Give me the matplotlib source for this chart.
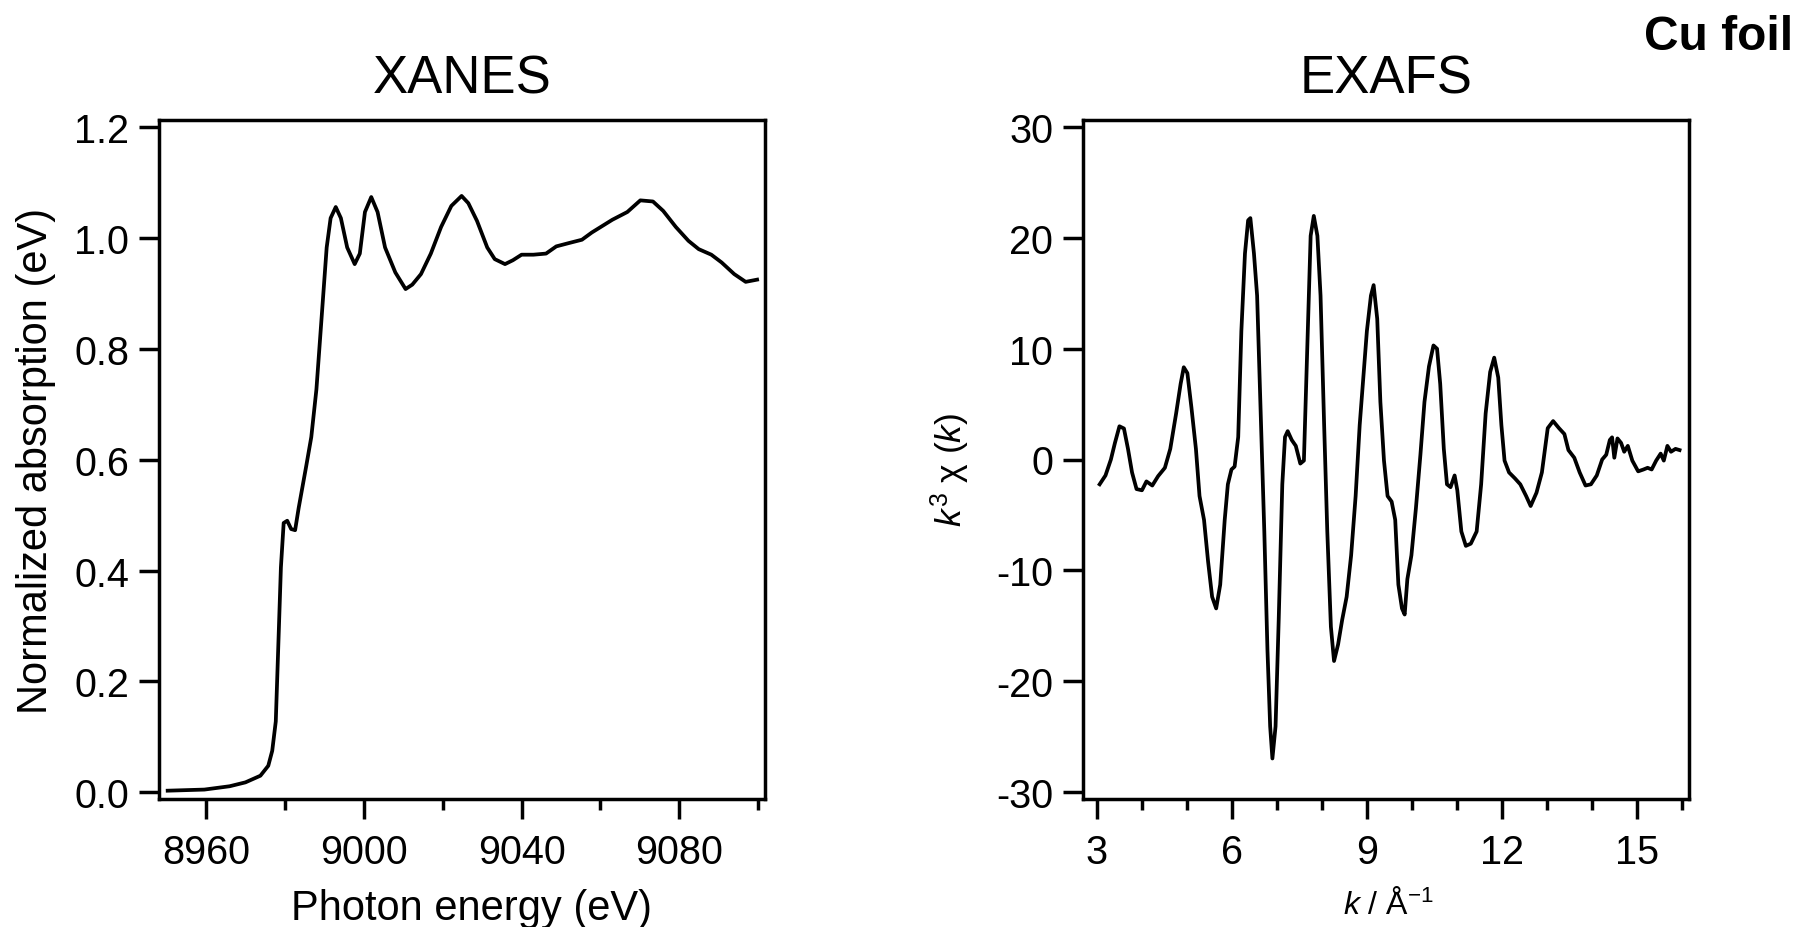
import numpy as np
import matplotlib
matplotlib.use("Agg")
import matplotlib.pyplot as plt
from matplotlib.ticker import MultipleLocator, FormatStrFormatter

plt.rcParams['font.family'] = ['Liberation Sans', 'DejaVu Sans']
plt.rcParams['mathtext.fontset'] = 'custom'
plt.rcParams['mathtext.rm'] = 'Liberation Sans'
plt.rcParams['mathtext.it'] = 'Liberation Sans:italic'
plt.rcParams['axes.unicode_minus'] = False

# XANES
xanes_e = [8950.3, 8959.6, 8966.0, 8970.0, 8973.8, 8975.8, 8976.8, 8977.7, 8978.3,
           8979.0, 8979.7, 8980.6, 8981.6, 8982.6, 8983.5, 8985.4, 8986.7, 8988.0,
           8989.3, 8990.6, 8991.6, 8992.9, 8994.2, 8995.8, 8997.7, 8999.0, 9000.3,
           9001.9, 9003.5, 9005.4, 9008.0, 9010.6, 9012.3, 9014.5, 9017.0, 9019.6,
           9022.2, 9024.8, 9026.5, 9028.7, 9031.3, 9033.2, 9035.8, 9037.8, 9040.0,
           9043.0, 9046.2, 9048.8, 9052.0, 9055.3, 9057.8, 9063.0, 9066.8, 9070.1,
           9073.3, 9075.9, 9079.1, 9082.3, 9084.9, 9088.1, 9090.7, 9093.9, 9096.8,
           9099.7]
xanes_mu = [0.003, 0.005, 0.011, 0.018, 0.030, 0.048, 0.075, 0.128, 0.256,
            0.406, 0.486, 0.490, 0.475, 0.473, 0.513, 0.588, 0.641, 0.727,
            0.855, 0.983, 1.036, 1.056, 1.036, 0.983, 0.953, 0.972, 1.047,
            1.074, 1.047, 0.983, 0.938, 0.908, 0.916, 0.935, 0.972, 1.020,
            1.058, 1.076, 1.063, 1.031, 0.983, 0.962, 0.953, 0.960, 0.970,
            0.970, 0.972, 0.985, 0.991, 0.997, 1.010, 1.033, 1.047, 1.068,
            1.066, 1.049, 1.020, 0.995, 0.980, 0.970, 0.956, 0.935, 0.921,
            0.925]

# EXAFS k^3 chi(k)
exafs_k = [3.06, 3.19, 3.31, 3.40, 3.50, 3.60, 3.69, 3.78, 3.88, 4.00, 4.10, 4.23,
           4.36, 4.51, 4.63, 4.76, 4.86, 4.93, 5.01, 5.10, 5.20, 5.28, 5.38, 5.47,
           5.56, 5.65, 5.74, 5.84, 5.91, 5.99, 6.06, 6.14, 6.21, 6.29, 6.36, 6.41,
           6.49, 6.56, 6.64, 6.72, 6.79, 6.85, 6.90, 6.97, 7.04, 7.12, 7.18, 7.24,
           7.33, 7.42, 7.52, 7.60, 7.67, 7.75, 7.82, 7.90, 7.97, 8.05, 8.12, 8.20,
           8.27, 8.36, 8.45, 8.55, 8.65, 8.75, 8.84, 8.92, 9.00, 9.09, 9.15, 9.23,
           9.30, 9.38, 9.46, 9.55, 9.63, 9.70, 9.78, 9.84, 9.90, 9.99, 10.09, 10.19,
           10.28, 10.38, 10.48, 10.56, 10.63, 10.71, 10.78, 10.86, 10.95, 11.01,
           11.10, 11.20, 11.31, 11.44, 11.54, 11.64, 11.74, 11.83, 11.92, 11.99,
           12.06, 12.16, 12.29, 12.41, 12.54, 12.64, 12.77, 12.89, 13.02, 13.14,
           13.27, 13.39, 13.48, 13.61, 13.73, 13.86, 13.98, 14.11, 14.23, 14.32,
           14.40, 14.45, 14.50, 14.57, 14.65, 14.72, 14.80, 14.90, 15.03, 15.15,
           15.24, 15.33, 15.43, 15.53, 15.60, 15.68, 15.76, 15.86, 15.95]
exafs_chi = [-2.24, -1.44, 0.0, 1.5, 3.0, 2.8, 0.96, -1.17, -2.67, -2.78, -1.98, -2.35,
             -1.5, -0.75, 0.96, 4.16, 6.83, 8.33, 7.8, 4.7, 0.96, -3.3, -5.45, -9.2,
             -12.4, -13.45, -11.3, -5.45, -2.24, -0.9, -0.64, 2.03, 11.6, 18.6, 21.6, 21.8,
             18.6, 14.8, 4.16, -6.5, -17.2, -24.1, -27.0, -24.1, -14.5, -2.24, 2.03, 2.56,
             1.76, 1.23, -0.37, -0.1, 9.5, 20.2, 22.0, 20.2, 14.8, 3.1, -6.5, -15.1,
             -18.2, -16.7, -14.5, -12.4, -8.65, -3.3, 3.1, 7.4, 11.6, 14.8, 15.75, 12.7,
             5.2, -0.1, -3.3, -3.8, -5.45, -11.3, -13.45, -14.0, -10.8, -8.65, -4.4, 0.43,
             5.2, 8.4, 10.3, 10.0, 6.83, 0.96, -2.24, -2.5, -1.44, -2.78,
             -6.5, -7.8, -7.6, -6.5, -2.24, 4.16, 7.9, 9.2, 7.4, 3.1,
             -0.1, -1.17, -1.7, -2.24, -3.3, -4.2, -3.0, -1.17, 2.83, 3.47,
             2.83, 2.3, 0.85, 0.16, -1.17, -2.35, -2.24, -1.44, 0.0, 0.43,
             1.76, 2.0, 0.16, 1.9, 1.5, 0.7, 1.23, -0.1, -1.07, -0.9,
             -0.75, -0.9, -0.1, 0.53, -0.1, 1.23, 0.7, 0.96, 0.85]

W, H = 1800, 928
fig = plt.figure(figsize=(W / 100, H / 100), dpi=100)

ax1 = fig.add_axes([159 / W, 1 - 800 / H, 606 / W, 679 / H])
ax2 = fig.add_axes([1083 / W, 1 - 800 / H, 606 / W, 679 / H])

lw = 2.7
tick_size = 28.5

for ax in (ax1, ax2):
    for side in ('left', 'bottom', 'right', 'top'):
        ax.spines[side].set_linewidth(2.5)
    ax.tick_params(which='major', direction='out', length=14.4, width=2.5,
                   labelsize=tick_size, pad=7)
    ax.tick_params(which='minor', direction='out', length=8, width=2.5)
    ax.tick_params(axis='x', which='major', pad=10)

ax1.plot(xanes_e, xanes_mu, color='black', lw=lw, solid_joinstyle='round')
ax1.set_xlim(8948.1, 9101.7)
ax1.set_ylim(-0.012, 1.213)
ax1.xaxis.set_major_locator(MultipleLocator(40))
ax1.xaxis.set_minor_locator(MultipleLocator(20))
ax1.yaxis.set_major_locator(MultipleLocator(0.2))
ax1.yaxis.set_major_formatter(FormatStrFormatter('%.1f'))
ax1.set_title('XANES', fontsize=38, pad=20)
ax1.set_xlabel('Photon energy (eV)', fontsize=30)
ax1.set_ylabel('Normalized absorption (eV)', fontsize=30)
ax1.xaxis.set_label_coords(0.516, -0.131)
ax1.yaxis.set_label_coords(-0.17, 0.5)

ax2.plot(exafs_k, exafs_chi, color='black', lw=lw, solid_joinstyle='round')
ax2.set_xlim(2.69, 16.16)
ax2.set_ylim(-30.66, 30.66)
ax2.xaxis.set_major_locator(MultipleLocator(3))
ax2.xaxis.set_minor_locator(MultipleLocator(1))
ax2.yaxis.set_major_locator(MultipleLocator(10))
ax2.set_title('EXAFS', fontsize=38, pad=20)
ax2.set_xlabel(r'$\mathit{k}$ / Å$^{-1}$', fontsize=23)
ax2.set_ylabel(r'$\mathit{k}^{3}$ χ $\mathit{(k)}$', fontsize=25.5)
ax2.xaxis.set_label_coords(0.504, -0.131)
ax2.yaxis.set_label_coords(-0.183, 0.486)

fig.text(0.996, 1 - 50 / H, 'Cu foil', ha='right', va='baseline',
         fontsize=34.5, fontweight='bold')

fig.savefig('out.png', dpi=100)
